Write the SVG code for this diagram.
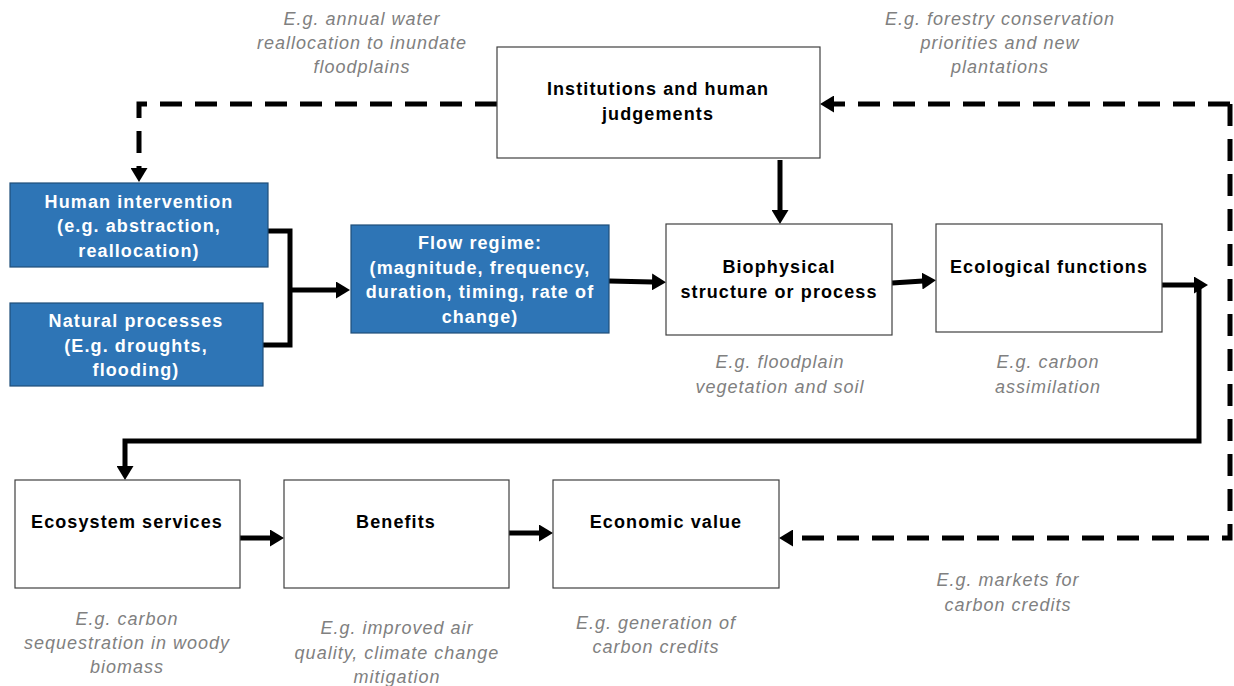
<svg xmlns="http://www.w3.org/2000/svg" width="1234" height="686" viewBox="0 0 1234 686">
<style>
.box{fill:#ffffff;stroke:#404040;stroke-width:1.2}
.blue{fill:#2E75B6;stroke:#1F4E79;stroke-width:1.2}
.t{font-family:"Liberation Sans",Arial,sans-serif;font-size:18px;font-weight:bold;text-anchor:middle;fill:#000;letter-spacing:1.1px}
.tw{font-family:"Liberation Sans",Arial,sans-serif;font-size:18px;font-weight:bold;text-anchor:middle;fill:#ffffff;letter-spacing:1.1px}
.n{font-family:"Liberation Sans",Arial,sans-serif;font-size:18px;font-style:italic;text-anchor:middle;fill:#808080;letter-spacing:1px}
.c{fill:none;stroke:#000;stroke-width:5}
.d{fill:none;stroke:#000;stroke-width:5;stroke-dasharray:22 13}
</style>
<defs>
<marker id="ah" markerUnits="userSpaceOnUse" markerWidth="14" markerHeight="17" refX="1" refY="8.5" orient="auto">
<path d="M0,0 L14,8.5 L0,17 z" fill="#000"/>
</marker>
</defs>

<g id="annotations">
<text class="n" x="362" y="25">E.g. annual water</text>
<text class="n" x="362" y="49">reallocation to inundate</text>
<text class="n" x="362" y="73">floodplains</text>
<text class="n" x="1000" y="25">E.g. forestry conservation</text>
<text class="n" x="1000" y="49">priorities and new</text>
<text class="n" x="1000" y="73">plantations</text>
<text class="n" x="780" y="368">E.g. floodplain</text>
<text class="n" x="780" y="393">vegetation and soil</text>
<text class="n" x="1048" y="368">E.g. carbon</text>
<text class="n" x="1048" y="393">assimilation</text>
<text class="n" x="127" y="625">E.g. carbon</text>
<text class="n" x="127" y="649">sequestration in woody</text>
<text class="n" x="127" y="673">biomass</text>
<text class="n" x="397" y="634">E.g. improved air</text>
<text class="n" x="397" y="659">quality, climate change</text>
<text class="n" x="397" y="683">mitigation</text>
<text class="n" x="656" y="629">E.g. generation of</text>
<text class="n" x="656" y="653">carbon credits</text>
<text class="n" x="1008" y="586">E.g. markets for</text>
<text class="n" x="1008" y="611">carbon credits</text>
</g>

<g id="connectors">
<path class="d" d="M497,104 H139 V169" marker-end="url(#ah)"/>
<path class="c" d="M268,231 H290 V345 H263"/>
<path class="c" d="M290,290 H337" marker-end="url(#ah)"/>
<path class="c" d="M609,281 L653,282" marker-end="url(#ah)"/>
<path class="c" d="M780,160 V211" marker-end="url(#ah)"/>
<path class="c" d="M892,283 L923,281" marker-end="url(#ah)"/>
<path class="c" d="M1162,285 H1195" marker-end="url(#ah)"/>
<path class="c" d="M1199,285 V441 H125 V467" marker-end="url(#ah)"/>
<path class="d" d="M1230,104 H833" marker-end="url(#ah)"/>
<path class="d" d="M1230,104 V538 H792" marker-end="url(#ah)"/>
<path class="c" d="M240,538 H271" marker-end="url(#ah)"/>
<path class="c" d="M509,533 H540" marker-end="url(#ah)"/>
</g>

<g id="institutions">
<rect class="box" x="497" y="47" width="323" height="111"/>
<text class="t" x="658" y="95">Institutions and human</text>
<text class="t" x="658" y="120">judgements</text>
</g>
<g id="human-intervention">
<rect class="blue" x="10" y="183" width="258" height="84"/>
<text class="tw" x="139" y="208">Human intervention</text>
<text class="tw" x="139" y="232">(e.g. abstraction,</text>
<text class="tw" x="139" y="257">reallocation)</text>
</g>
<g id="natural-processes">
<rect class="blue" x="10" y="303" width="253" height="83"/>
<text class="tw" x="136" y="327">Natural processes</text>
<text class="tw" x="136" y="352">(E.g. droughts,</text>
<text class="tw" x="136" y="376">flooding)</text>
</g>
<g id="flow-regime">
<rect class="blue" x="351" y="225" width="258" height="108"/>
<text class="tw" x="480" y="249">Flow regime:</text>
<text class="tw" x="480" y="274">(magnitude, frequency,</text>
<text class="tw" x="480" y="298">duration, timing, rate of</text>
<text class="tw" x="480" y="323">change)</text>
</g>
<g id="biophysical">
<rect class="box" x="666" y="224" width="226" height="111"/>
<text class="t" x="779" y="273">Biophysical</text>
<text class="t" x="779" y="298">structure or process</text>
</g>
<g id="ecological">
<rect class="box" x="936" y="224" width="226" height="108"/>
<text class="t" x="1049" y="273">Ecological functions</text>
</g>
<g id="ecosystem-services">
<rect class="box" x="15" y="480" width="225" height="108"/>
<text class="t" x="127" y="528">Ecosystem services</text>
</g>
<g id="benefits">
<rect class="box" x="284" y="480" width="225" height="108"/>
<text class="t" x="396" y="528">Benefits</text>
</g>
<g id="economic-value">
<rect class="box" x="553" y="480" width="226" height="108"/>
<text class="t" x="666" y="528">Economic value</text>
</g>
</svg>
